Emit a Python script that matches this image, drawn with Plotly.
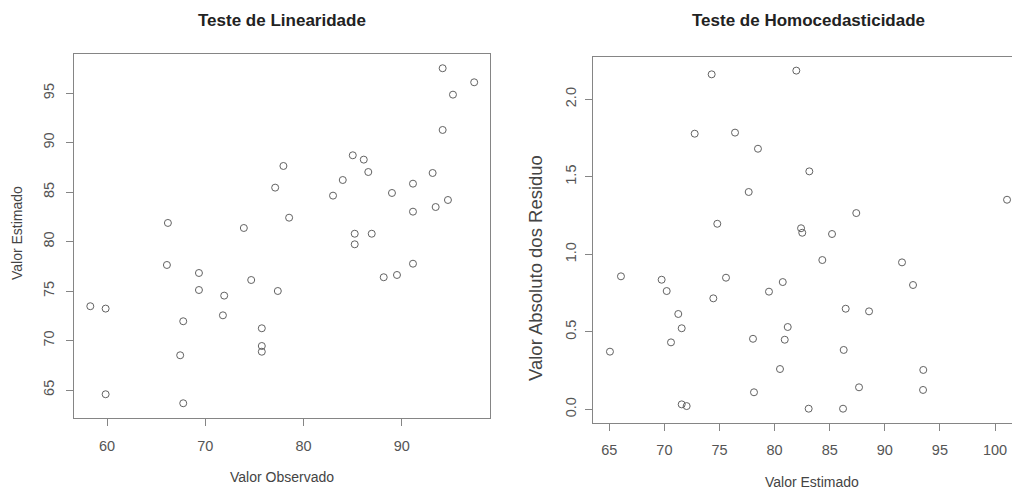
import plotly.graph_objects as go

# ---- data: Teste de Linearidade ----
valor_observado = [58.30, 59.86, 59.86, 66.20, 66.10, 69.36, 69.36, 67.76, 67.45, 67.76,
                   71.93, 71.80, 73.93, 74.68, 77.39, 75.76, 75.76, 75.76, 77.12, 77.96,
                   78.54, 83.01, 84.00, 85.02, 86.14, 86.60, 85.22, 85.22, 86.95, 88.17,
                   89.52, 91.15, 89.01, 91.15, 91.15, 93.15, 93.46, 94.71, 94.17, 94.17,
                   95.22, 97.38]
valor_estimado_lin = [73.47, 73.23, 64.57, 81.89, 77.64, 76.83, 75.11, 71.95, 68.51, 63.66,
                      74.54, 72.55, 81.38, 76.12, 75.01, 71.24, 69.45, 68.87, 85.46, 87.65,
                      82.42, 84.65, 86.23, 88.73, 88.29, 87.04, 80.80, 79.73, 80.80, 76.40,
                      76.63, 77.77, 84.92, 85.86, 83.03, 86.94, 83.50, 84.21, 91.29, 97.53,
                      94.86, 96.11]

# ---- data: Teste de Homocedasticidade ----
valor_estimado_hom = [65.06, 66.06, 69.75, 70.21, 70.60, 71.26, 71.57, 71.57, 72.02, 72.75,
                      74.29, 74.80, 74.44, 75.59, 76.41, 77.65, 78.49, 78.04, 78.13, 79.49,
                      81.97, 83.15, 82.40, 82.51, 85.21, 87.41, 84.33, 80.74, 81.19, 80.92,
                      80.49, 86.45, 88.57, 86.27, 83.09, 86.21, 87.66, 91.56, 92.56, 93.49,
                      93.47, 101.09]
residuo_abs = [0.372, 0.858, 0.836, 0.763, 0.432, 0.615, 0.523, 0.032, 0.021, 1.778,
               2.161, 1.197, 0.716, 0.849, 1.785, 1.402, 1.681, 0.455, 0.110, 0.759,
               2.185, 1.535, 1.168, 1.139, 1.131, 1.266, 0.963, 0.821, 0.531, 0.449,
               0.260, 0.649, 0.632, 0.383, 0.004, 0.004, 0.142, 0.948, 0.802, 0.254,
               0.125, 1.352]

xticks_left = [60, 70, 80, 90]
yticks_left = [65, 70, 75, 80, 85, 90, 95]
xticks_right = [65, 70, 75, 80, 85, 90, 95, 100]
yticks_right = [0.0, 0.5, 1.0, 1.5, 2.0]

FONT = "Liberation Sans, Arial, sans-serif"
W, H = 1012, 490
marker = dict(symbol="circle-open", size=7, color="#626262", line=dict(width=1, color="#626262"))

fig = go.Figure()
fig.add_trace(go.Scatter(x=valor_observado, y=valor_estimado_lin, mode="markers",
                         marker=marker, xaxis="x", yaxis="y", showlegend=False))
fig.add_trace(go.Scatter(x=valor_estimado_hom, y=residuo_abs, mode="markers",
                         marker=marker, xaxis="x2", yaxis="y2", showlegend=False))

def px_x(p):
    return min(1.0, p / W)

def px_y(p):
    return 1 - p / H

axis_common = dict(showgrid=False, zeroline=False, showline=True, linecolor="#858585",
                   linewidth=1.4, ticks="outside", ticklen=7, tickcolor="#858585",
                   tickwidth=1, tickfont=dict(family=FONT, size=14.5, color="#555555"))

def note(text, x, y, size, color="#444444", angle=0):
    return dict(text=text, x=px_x(x), y=px_y(y), xref="paper", yref="paper",
                xanchor="center", yanchor="middle", showarrow=False, textangle=angle,
                font=dict(family=FONT, size=size, color=color))

fig.update_layout(
    width=W, height=H,
    margin=dict(l=0, r=0, t=0, b=0),
    paper_bgcolor="white", plot_bgcolor="white",
    xaxis=dict(axis_common, domain=[px_x(74), px_x(489.5)], range=[56.64, 98.94],
               tickvals=xticks_left, mirror=True, anchor="y", ticklabelstandoff=8),
    yaxis=dict(axis_common, domain=[px_y(417.5), px_y(54)], range=[62.22, 98.97],
               tickvals=yticks_left, tickangle=-90, mirror=True, anchor="x",
               ticklabelstandoff=6),
    xaxis2=dict(axis_common, domain=[px_x(593.3), 1.0], range=[63.55, 101.54],
                tickvals=xticks_right, mirror=True, anchor="y2", ticklabelstandoff=7),
    yaxis2=dict(axis_common, domain=[px_y(422.5), px_y(56.5)], range=[-0.085, 2.276],
                tickvals=yticks_right, tickformat=".1f", tickangle=-90, mirror=False,
                anchor="x2", ticklabelstandoff=3),
    annotations=[
        note("<b>Teste de Linearidade</b>", 282, 21, 17, "#222222"),
        note("<b>Teste de Homocedasticidade</b>", 808, 21, 17, "#222222"),
        note("Valor Observado", 282, 477, 14),
        note("Valor Estimado", 812, 482, 14),
        note("Valor Estimado", 17, 233, 14, angle=-90),
        note("Valor Absoluto dos Residuo", 535, 268, 18.5, angle=-90),
    ],
)

# remove the default 8px page margin so the figure fills the 1012x490 window exactly
fig.write_html("out.html", config={"displayModeBar": False},
               post_script="document.body.style.margin='0';")
